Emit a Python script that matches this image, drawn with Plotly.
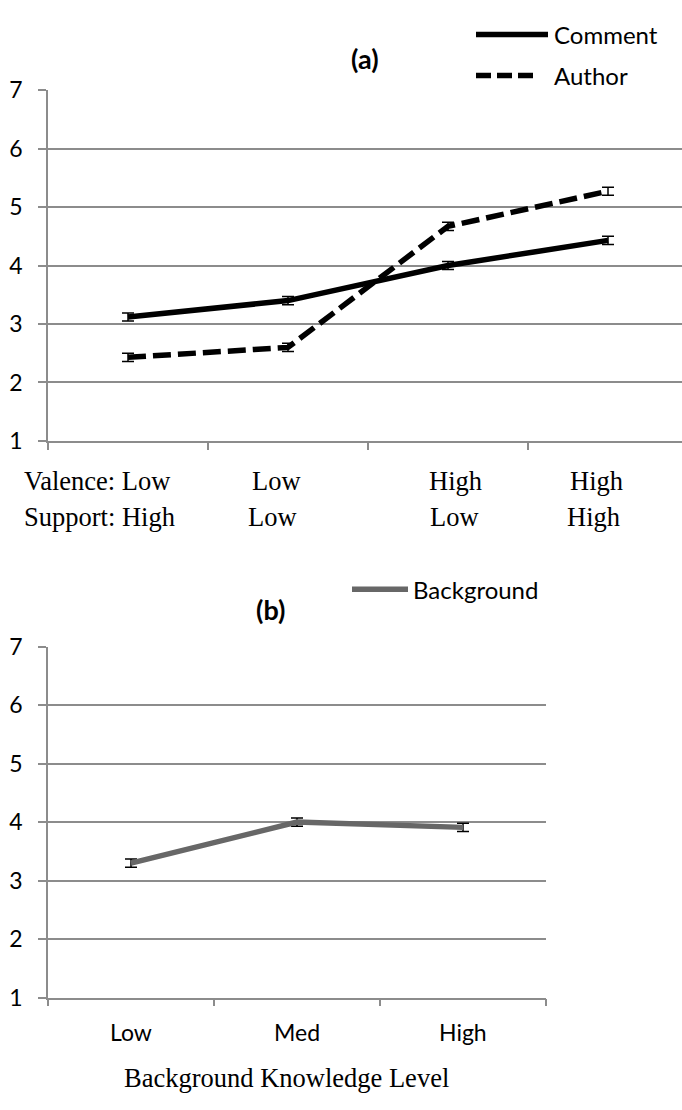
import plotly.graph_objects as go

# Panel (a): ratings by valence / support condition
valence_labels = ["Low", "Low", "High", "High"]
support_labels = ["High", "Low", "Low", "High"]
comment_vals = [3.12, 3.40, 4.00, 4.43]
comment_err = [0.07, 0.07, 0.07, 0.07]
author_vals = [2.43, 2.60, 4.67, 5.27]
author_err = [0.07, 0.07, 0.07, 0.07]

# Panel (b): ratings by background knowledge level
knowledge_levels = ["Low", "Med", "High"]
background_vals = [3.30, 4.00, 3.91]
background_err = [0.07, 0.07, 0.07]

W, H = 682, 1110
GRID = "#8c8c8c"
SANS = "Lato, 'Open Sans', sans-serif"
SERIF = "'Liberation Serif', 'Times New Roman', serif"


def px_x(p):
    return p / W


def px_y(p):
    return (H - p) / H


fig = go.Figure()

fig.add_trace(go.Scatter(
    x=list(range(len(comment_vals))), y=comment_vals, mode="lines",
    line=dict(color="black", width=5.5),
    error_y=dict(type="data", array=comment_err, color="black", thickness=1.5, width=6),
    xaxis="x", yaxis="y", showlegend=False))
fig.add_trace(go.Scatter(
    x=list(range(len(author_vals))), y=author_vals, mode="lines",
    line=dict(color="black", width=5.5, dash="18px,7px"),
    error_y=dict(type="data", array=author_err, color="black", thickness=1.5, width=6),
    xaxis="x", yaxis="y", showlegend=False))
fig.add_trace(go.Scatter(
    x=list(range(len(background_vals))), y=background_vals, mode="lines",
    line=dict(color="#676767", width=5.5),
    error_y=dict(type="data", array=background_err, color="black", thickness=1.5, width=6),
    xaxis="x2", yaxis="y2", showlegend=False))

a_left, a_right = 48, W
cat_w_a = 160
b_left, b_right = 48, 546

yaxis_common = dict(
    range=[1, 7], dtick=1, showgrid=True, gridcolor=GRID, gridwidth=1.5,
    showline=True, linecolor=GRID, linewidth=1.5, ticks="outside", ticklen=8,
    tickcolor=GRID, tickwidth=1.5, zeroline=False,
    tickfont=dict(family=SANS, size=23, color="black"), ticklabelstandoff=11,
)
xaxis_common = dict(
    showgrid=False, zeroline=False, showline=True, linecolor=GRID, linewidth=1.5,
    ticks="outside", ticklen=7, tickcolor=GRID, tickwidth=1.5, showticklabels=False,
)

fig.update_layout(
    width=W, height=H, margin=dict(l=0, r=0, t=0, b=0),
    paper_bgcolor="white", plot_bgcolor="white",
    xaxis=dict(domain=[px_x(a_left), 1], anchor="y",
               range=[-0.5, -0.5 + (a_right - a_left) / cat_w_a],
               tickvals=[-0.5, 0.5, 1.5, 2.5], **xaxis_common),
    yaxis=dict(domain=[px_y(437), px_y(77)], anchor="x", **yaxis_common),
    xaxis2=dict(domain=[px_x(b_left), px_x(b_right)], anchor="y2",
                range=[-0.5, 2.5], tickvals=[-0.5, 0.5, 1.5, 2.5], **xaxis_common),
    yaxis2=dict(domain=[px_y(1008), px_y(648)], anchor="x2", **yaxis_common),
)

ann = []


def text(x, y, s, size, family, xanchor="center", bold=False):
    ann.append(dict(x=px_x(x), y=px_y(y), xref="paper", yref="paper",
                    text=f"<b>{s}</b>" if bold else s, showarrow=False,
                    xanchor=xanchor, yanchor="middle",
                    font=dict(family=family, size=size, color="black")))


# Titles
text(365, 45, "(a)", 27, SANS, bold=True)
text(270, 610, "(b)", 27, SANS, bold=True)

# Legends
text(552, 20, "Comment", 24, SANS, xanchor="left")
text(552, 62, "Author", 24, SANS, xanchor="left")
text(411, 589, "Background", 24, SANS, xanchor="left")
shapes = [
    dict(type="line", xref="paper", yref="paper", x0=px_x(476), x1=px_x(548),
         y0=px_y(20), y1=px_y(20), line=dict(color="black", width=5.5)),
    dict(type="line", xref="paper", yref="paper", x0=px_x(476), x1=px_x(535),
         y0=px_y(62), y1=px_y(62), line=dict(color="black", width=5.5, dash="15px,6px")),
    dict(type="line", xref="paper", yref="paper", x0=px_x(352), x1=px_x(408),
         y0=px_y(589), y1=px_y(589), line=dict(color="#676767", width=5.5)),
]

# Panel (a) condition labels
text(22, 478, "Valence: " + valence_labels[0], 26.5, SERIF, xanchor="left")
text(22, 515, "Support: " + support_labels[0], 26.5, SERIF, xanchor="left")
val_x = [None, 276, 455, 596]
sup_x = [None, 272, 454, 593]
for i in range(1, len(valence_labels)):
    text(val_x[i], 478, valence_labels[i], 26.5, SERIF)
    text(sup_x[i], 515, support_labels[i], 26.5, SERIF)

# Panel (b) category labels and axis title
for i, lvl in enumerate(knowledge_levels):
    text(b_left + (i + 0.5) * (b_right - b_left) / 3, 1043, lvl, 23, SANS)
text(286, 1091, "Background Knowledge Level", 26.5, SERIF)

fig.update_layout(annotations=ann, shapes=shapes)
fig.write_html("out.html")
